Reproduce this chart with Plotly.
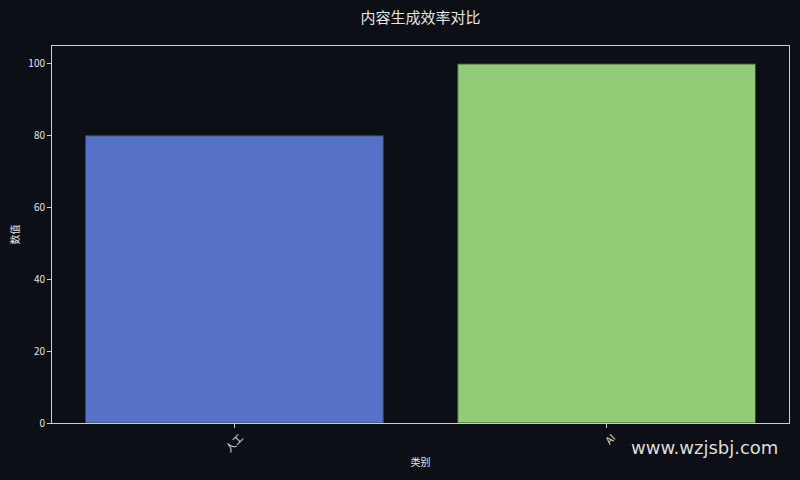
import plotly.graph_objects as go

categories = ["人工", "AI"]
values = [80, 100]
bar_colors = ["#5572c8", "#92cc76"]
y_ticks = [0, 20, 40, 60, 80, 100]

bg = "#0c0f16"
fg = "#e6e6e6"
font = "Noto Sans CJK SC, DejaVu Sans, sans-serif"

fig = go.Figure(go.Bar(
    x=list(range(len(categories))), y=values, width=0.8,
    marker=dict(color=bar_colors, line=dict(color="#3a4a3a", width=1)),
))

fig.update_layout(
    width=800, height=480,
    paper_bgcolor=bg, plot_bgcolor=bg,
    margin=dict(l=52, r=11, t=46, b=57),
    title=dict(text="内容生成效率对比", xref="paper", x=0.5, xanchor="center",
               y=0.962, yanchor="middle",
               font=dict(size=15, color=fg, family=font)),
    showlegend=False,
    font=dict(family=font, color=fg),
)
fig.update_xaxes(
    range=[-0.49, 1.49], tickvals=list(range(len(categories))), ticktext=categories,
    tickangle=-45, ticks="outside", ticklen=4, tickcolor="#cccccc",
    ticklabelshift=6,
    tickfont=dict(size=10, color=fg), showgrid=False, zeroline=False,
    showline=True, linecolor="#cccccc", linewidth=1, mirror=True,
    title=dict(text="类别", font=dict(size=10, color=fg), standoff=5),
)
fig.update_yaxes(
    range=[0, 105], tickvals=y_ticks, ticks="outside", ticklen=4, tickcolor="#cccccc",
    tickfont=dict(size=10, color=fg), showgrid=False, zeroline=False,
    showline=True, linecolor="#cccccc", linewidth=1, mirror=True,
    title=dict(text="数值", font=dict(size=10, color=fg), standoff=6),
)
fig.add_annotation(
    text="www.wzjsbj.com", xref="paper", yref="paper", x=0.988, y=-0.066,
    xanchor="right", yanchor="middle", showarrow=False,
    font=dict(size=18, color="#dddddd", family="DejaVu Sans, sans-serif"),
)
fig.write_html(
    "out.html",
    config={"displayModeBar": False},
    post_script="document.body.style.margin='0';document.body.style.background='#0c0f16';",
)
